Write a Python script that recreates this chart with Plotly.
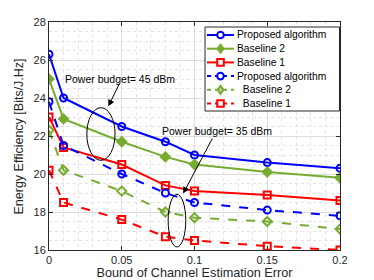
import plotly.graph_objects as go

x_vals = [0, 0.01, 0.05, 0.08, 0.1, 0.15, 0.2]

prop_45 = [26.3, 24.0, 22.5, 21.7, 21.0, 20.6, 20.3]
base2_45 = [25.0, 22.9, 21.7, 20.9, 20.5, 20.1, 19.8]
base1_45 = [23.0, 21.4, 20.5, 19.4, 19.1, 18.9, 18.6]
prop_35 = [23.8, 21.5, 20.0, 19.0, 18.5, 18.1, 17.8]
base2_35 = [22.3, 20.2, 19.1, 18.0, 17.7, 17.5, 17.1]
base1_35 = [20.2, 18.5, 17.6, 16.7, 16.5, 16.2, 16.0]

series_names = ["Proposed algorithm", "Baseline 2", "Baseline 1",
                "Proposed algorithm", " Baseline 2", " Baseline 1"]

x_ticks = [0, 0.05, 0.1, 0.15, 0.2]
x_ticktext = ["0", "0.05", "0.1", "0.15", "0.2"]
y_ticks = [16, 18, 20, 22, 24, 26, 28]

BLUE = "#0000FF"
GREEN = "#77AC30"
RED = "#FF0000"
INK = "#262626"
FONT = "Liberation Sans, Arial, sans-serif"

series = [
    (series_names[0], prop_45, BLUE, "circle-open", "solid"),
    (series_names[1], base2_45, GREEN, "diamond", "solid"),
    (series_names[2], base1_45, RED, "square-open", "solid"),
    (series_names[3], prop_35, BLUE, "circle-open", "dash"),
    (series_names[4], base2_35, GREEN, "diamond-open", "dash"),
    (series_names[5], base1_35, RED, "square-open", "dash"),
]

fig = go.Figure()
for name, ys, col, sym, dash in series:
    fig.add_trace(go.Scatter(
        x=x_vals, y=ys, name=name, mode="lines+markers", showlegend=False,
        line=dict(color=col, width=2, dash=dash),
        marker=dict(symbol=sym, size=7, color=col, line=dict(color=col, width=2)),
    ))

# ellipses around curve groups
fig.add_shape(type="circle", xref="x", yref="y", x0=0.026, x1=0.0454, y0=20.72, y1=23.49,
              line=dict(color="black", width=1))
fig.add_shape(type="circle", xref="x", yref="y", x0=0.0819, x1=0.094, y0=16.16, y1=18.93,
              line=dict(color="black", width=1))

# arrows
fig.add_annotation(x=0.0408, y=23.56, ax=11.7, ay=-24, axref="pixel", ayref="pixel",
                   showarrow=True, arrowhead=2, arrowsize=1.3, arrowwidth=1, arrowcolor="black", text="")
fig.add_annotation(x=0.0922, y=18.97, ax=30, ay=-56.6, axref="pixel", ayref="pixel",
                   showarrow=True, arrowhead=2, arrowsize=1.3, arrowwidth=1, arrowcolor="black", text="")

fig.add_annotation(x=0.0488, y=24.98, text="Power budget= 45 dBm", showarrow=False,
                   font=dict(size=10.5, color="black", family=FONT))
fig.add_annotation(x=0.1153, y=22.25, text="Power budget= 35 dBm", showarrow=False,
                   font=dict(size=10.5, color="black", family=FONT))

# ---- compact legend box (layout decoration) ----
PLOT_L, PLOT_W, PLOT_B, PLOT_H = 49, 291, 250, 228


def px_x(p):
    return (p - PLOT_L) / PLOT_W


def px_y(p):
    return (PLOT_B - p) / PLOT_H


fig.add_shape(type="rect", xref="paper", yref="paper",
              x0=px_x(205), x1=px_x(339.5), y0=px_y(111), y1=px_y(27),
              fillcolor="white", line=dict(color=INK, width=1), layer="above")

row_y = [35, 48.7, 62.4, 76.1, 89.8, 103.5]
text_x = [237, 237, 237, 237, 240, 240]
for i, (name, ys, col, sym, dash) in enumerate(series):
    yy = px_y(row_y[i])
    fig.add_shape(type="line", xref="paper", yref="paper",
                  x0=px_x(207), x1=px_x(234), y0=yy, y1=yy,
                  line=dict(color=col, width=2, dash="solid" if dash == "solid" else "4px,4px"),
                  layer="above")
    mx = px_x(220.5)
    common = dict(xref="paper", yref="paper", xsizemode="pixel", ysizemode="pixel",
                  xanchor=mx, yanchor=yy, layer="above")
    if sym.startswith("circle"):
        fig.add_shape(type="circle", x0=-3.3, x1=3.3, y0=-3.3, y1=3.3,
                      line=dict(color=col, width=2), fillcolor="white", **common)
    elif sym.startswith("square"):
        fig.add_shape(type="rect", x0=-3.3, x1=3.3, y0=-3.3, y1=3.3,
                      line=dict(color=col, width=2), fillcolor="white", **common)
    else:
        fig.add_shape(type="path", path="M 0 4 L 3 0 L 0 -4 L -3 0 Z",
                      line=dict(color=col, width=2),
                      fillcolor=col if dash == "solid" else "#B7D68F", **common)
    label = name.replace(" ", "&nbsp;", 1) if name.startswith(" ") else name
    fig.add_annotation(xref="paper", yref="paper", x=px_x(text_x[i]), y=yy,
                       xanchor="left", yanchor="middle", text=label,
                       showarrow=False, font=dict(size=10.3, color="black", family=FONT),
                       borderpad=0, xshift=-1)

# y-axis title placed as rotated text
fig.add_annotation(xref="paper", yref="paper", x=px_x(18), y=px_y(136.5),
                   xanchor="center", yanchor="middle", textangle=-90,
                   text="Energy Efficiency [Bits/J.Hz]", showarrow=False,
                   font=dict(size=12.5, color=INK, family=FONT))

axis_common = dict(
    showline=True, linecolor=INK, linewidth=1, mirror="ticks",
    ticks="inside", ticklen=4, tickcolor=INK,
    showgrid=True, gridcolor="#DCDCDC", gridwidth=1,
    zeroline=False, automargin=False,
    tickfont=dict(size=11, color=INK, family=FONT),
)

fig.update_xaxes(
    range=[0, 0.2], tickvals=x_ticks, ticktext=x_ticktext,
    title=dict(text="Bound of Channel Estimation Error", font=dict(size=12.7, color=INK, family=FONT), standoff=2),
    minor=dict(dtick=0.01, showgrid=True, gridcolor="#E3E3E3", griddash="dot", ticks=""),
    **axis_common,
)
fig.update_yaxes(
    range=[16, 28], tickvals=y_ticks,
    minor=dict(dtick=0.5, showgrid=True, gridcolor="#E3E3E3", griddash="dot", ticks=""),
    **axis_common,
)

fig.update_layout(
    width=374, height=280,
    margin=dict(l=49, r=34, t=22, b=30),
    paper_bgcolor="white", plot_bgcolor="white",
    font=dict(family=FONT, color=INK),
    showlegend=False,
)

fig.write_html("out.html", config={"displayModeBar": False, "staticPlot": True},
               post_script="document.body.style.margin='0';document.body.style.overflow='hidden';")
